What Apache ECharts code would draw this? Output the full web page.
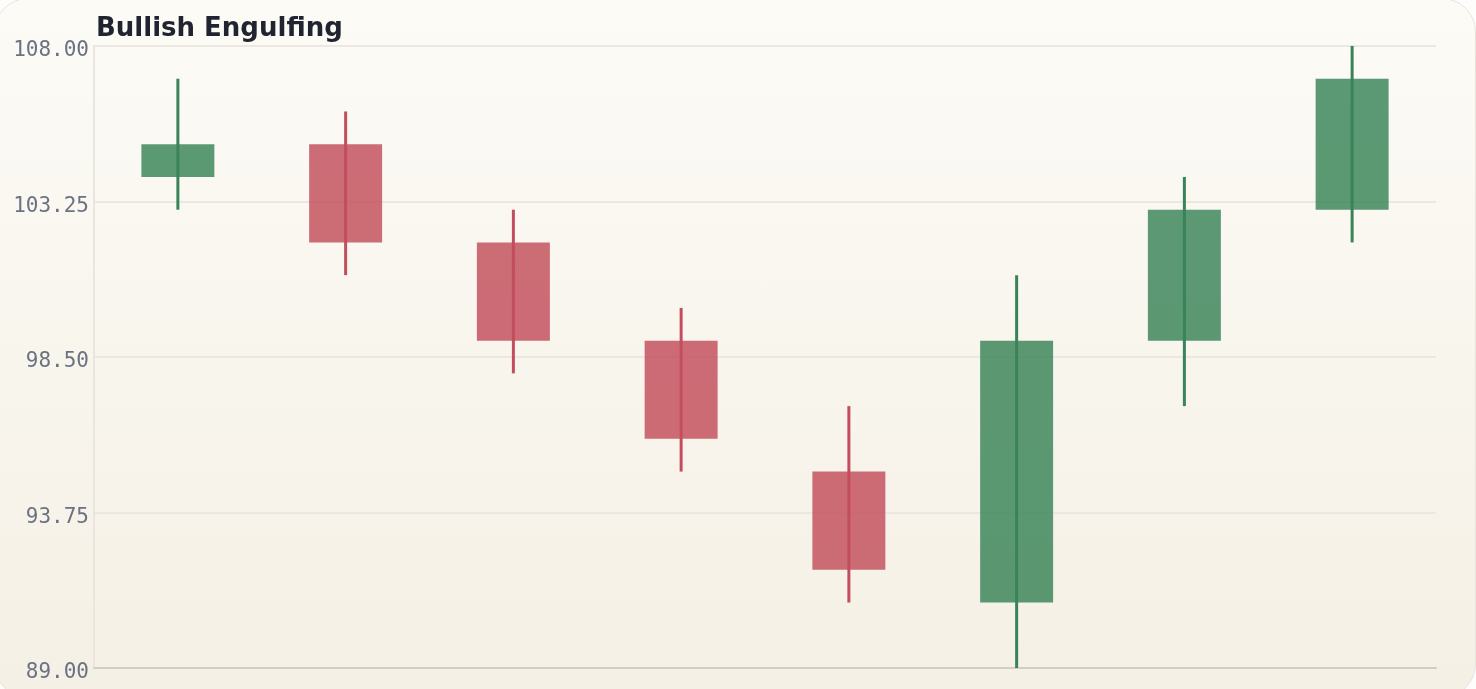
<!DOCTYPE html>
<html>
<head>
<meta charset="utf-8">
<script src="https://cdn.jsdelivr.net/npm/echarts@6/dist/echarts.min.js"></script>
<style>
  html, body { margin: 0; padding: 0; width: 1476px; height: 689px; background: #fdfdfc; overflow: hidden; }
  .card {
    position: absolute; left: -6px; top: -2px; width: 1482px; height: 700px;
    border-radius: 34px; border: 1px solid #e7e4dc;
    background: linear-gradient(180deg, #fcfbf6 0%, #f5f0e5 100%);
    box-sizing: border-box;
  }
  #chart { position: absolute; left: 0; top: 0; width: 1476px; height: 689px; }
</style>
</head>
<body>
<div class="card"></div>
<div id="chart"></div>
<script>
// candle data
const categories = ['1', '2', '3', '4', '5', '6', '7', '8']
const openVals = [104, 105, 102, 99, 95, 91, 99, 103]
const closeVals = [105, 102, 99, 96, 92, 99, 103, 107]
const lowVals = [103, 101, 98, 95, 91, 89, 97, 102]
const highVals = [107, 106, 103, 100, 97, 101, 104, 108]
const yTicks = [89, 93.75, 98.5, 103.25, 108]

const up = { body: 'rgba(46,125,80,0.78)', wick: '#3a8259' }
const down = { body: 'rgba(192,72,86,0.8)', wick: '#c44d5d' }

const chart = echarts.init(document.getElementById('chart'))

const seriesData = categories.map((c, i) => [i, openVals[i], closeVals[i], lowVals[i], highVals[i]])

const option = {
  backgroundColor: 'transparent',
  animation: false,
  title: {
    text: 'Bullish Engulfing',
    left: 91,
    top: 11,
    textStyle: { fontFamily: 'DejaVu Sans', fontWeight: 'bold', fontSize: 26, color: '#1f2430' }
  },
  grid: { left: 94, right: 40, top: 46, bottom: 21 },
  xAxis: {
    type: 'category',
    data: categories,
    boundaryGap: true,
    axisLine: { lineStyle: { color: '#d2cdc5', width: 2 } },
    axisTick: { show: false },
    axisLabel: { show: false },
    splitLine: { show: false }
  },
  yAxis: {
    type: 'value',
    min: yTicks[0],
    max: yTicks[yTicks.length - 1],
    interval: 4.75,
    axisLine: { show: true, lineStyle: { color: '#e9e6e0', width: 2 } },
    axisTick: { show: false },
    axisLabel: {
      margin: 5,
      fontFamily: 'DejaVu Sans Mono',
      fontSize: 21,
      color: '#6b7383',
      verticalAlign: 'top',
      lineHeight: 10,
      formatter: v => v.toFixed(2)
    },
    splitLine: { lineStyle: { color: '#ebe8e2', width: 2 } }
  },
  series: [{
    type: 'custom',
    data: seriesData,
    encode: { x: 0, y: [1, 2, 3, 4] },
    renderItem: function (params, api) {
      const x = api.value(0)
      const o = api.value(1)
      const c = api.value(2)
      const pLow = api.coord([x, api.value(3)])
      const pHigh = api.coord([x, api.value(4)])
      const pOpen = api.coord([x, o])
      const pClose = api.coord([x, c])
      const w = api.size([1, 0])[0] * 0.435
      const col = c >= o ? up : down
      const top = Math.min(pOpen[1], pClose[1])
      const h = Math.abs(pOpen[1] - pClose[1])
      return {
        type: 'group',
        children: [
          {
            type: 'rect',
            shape: { x: pOpen[0] - w / 2, y: top, width: w, height: h },
            style: { fill: col.body }
          },
          {
            type: 'line',
            shape: { x1: pHigh[0], y1: pHigh[1], x2: pLow[0], y2: pLow[1] },
            style: { stroke: col.wick, lineWidth: 3 }
          }
        ]
      }
    }
  }]
}

chart.setOption(option)
</script>
</body>
</html>
